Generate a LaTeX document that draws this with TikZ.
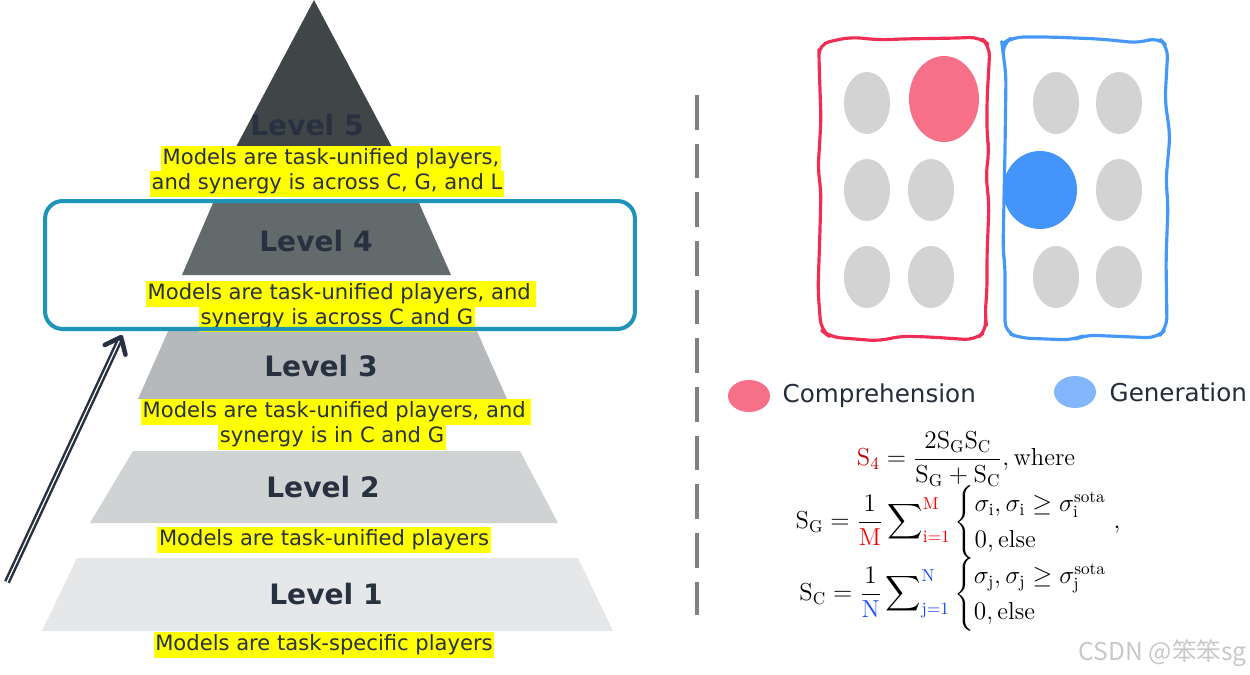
\documentclass[tikz,border=0pt]{standalone}
\usepackage{amsmath,amssymb}
\usepackage{fontspec}
\usepackage{tikz}
\usetikzlibrary{arrows.meta,positioning,shapes.geometric}
\newfontfamily\dejavu{DejaVu Sans}
\newfontfamily\cjk{Noto Sans CJK SC}
\definecolor{lvfive}{RGB}{64,69,72}
\definecolor{lvfour}{RGB}{98,106,108}
\definecolor{lvthree}{RGB}{181,185,188}
\definecolor{lvtwo}{RGB}{208,211,212}
\definecolor{lvone}{RGB}{230,231,232}
\definecolor{lvtext}{RGB}{40,49,64}
\definecolor{hlyellow}{RGB}{255,255,0}
\definecolor{focusblue}{RGB}{31,148,184}
\definecolor{arrowdark}{RGB}{38,48,64}
\definecolor{sepgray}{RGB}{128,128,128}
\definecolor{compred}{RGB}{240,45,85}
\definecolor{genblue}{RGB}{69,152,247}
\definecolor{dotgray}{RGB}{211,211,211}
\definecolor{bigred}{RGB}{246,112,136}
\definecolor{bigblue}{RGB}{67,148,251}
\definecolor{legblue}{RGB}{130,184,251}
\definecolor{sfour}{RGB}{192,0,0}
\definecolor{mred}{RGB}{255,0,0}
\definecolor{nblue}{RGB}{20,70,255}
\definecolor{wmgray}{RGB}{200,200,200}

\begin{document}
\begin{tikzpicture}[x=0.02cm, y=-0.02cm,
    level/.style={font=\dejavu\bfseries\fontsize{16}{18}\selectfont, text=lvtext, inner sep=0pt},
    hl/.style={fill=hlyellow, inner xsep=1pt, inner ysep=1.5pt, text height=9pt, text depth=2.8pt, font=\dejavu\fontsize{12}{14}\selectfont, text=lvtext},
    focus/.style={draw=focusblue, line width=2.3pt, rounded corners=10pt, minimum width=11.8cm, minimum height=2.56cm},
    uparrow/.style={draw=arrowdark, double=white, line width=1.4pt, double distance=0.7pt, -{Straight Barb[length=8pt, width=13pt, line width=2.6pt, round]}},
    sepline/.style={draw=sepgray, line width=2pt, dash pattern=on 19.8pt off 7.9pt},
    wobble/.style={line width=1.8pt, line join=round, rounded corners=6pt},
    legdot/.style={ellipse, minimum width=0.84cm, minimum height=0.64cm, inner sep=0pt},
    legtext/.style={font=\dejavu\fontsize{14}{16}\selectfont, text=lvtext!90!black, inner sep=0pt}
]
\useasboundingbox (0,0) rectangle (1250,674);

% pyramid layers
\fill[lvfive] (314,0) -- (392,147) -- (236,147) -- cycle;
\fill[lvfour] (213,203) -- (419,203) -- (451,275) -- (182,275) -- cycle;
\fill[lvthree] (169,329) -- (476,329) -- (507,399) -- (138,399) -- cycle;
\fill[lvtwo] (133,451) -- (520,451) -- (558,523) -- (90,523) -- cycle;
\fill[lvone] (77,558) -- (578,558) -- (613,631) -- (42,631) -- cycle;

\node[level] (lfive) at (307,125) {Level 5};
\node[level] (lfour) at (316,241) {Level 4};
\node[level] (lthree) at (321,366) {Level 3};
\node[level] (ltwo) at (323,487) {Level 2};
\node[level] (lone) at (326,594) {Level 1};

% descriptions
\node[hl] (dfivea) at (331,159) {Models are task-unified players,};
\node[hl] (dfiveb) at (327,184) {and synergy is across C, G, and L};
\node[hl] (dfoura) at (341,294) {Models are task-unified players, and\,};
\node[hl] (dfourb) at (337,319) {synergy is across C and G};
\node[hl] (dthreea) at (336,412) {Models are task-unified players, and\,};
\node[hl] (dthreeb) at (332,437) {synergy is in C and G};
\node[hl] (dtwo) at (324,540) {Models are task-unified players};
\node[hl] (done) at (324,645) {Models are task-specific players};

% highlighted level
\node[focus] (box) at (340,265) {};

\coordinate (arrtail) at (7,582);
\coordinate (arrhead) at (122,335);
\draw[uparrow] (arrtail) -- (arrhead);

% separator
\coordinate (septop) at (697,95);
\coordinate (sepbot) at (697,615);
\draw[sepline] (septop) -- (sepbot);

% comprehension / generation groups
\draw[wobble, draw=compred] (819,44) -- (850,37) -- (880,40) -- (900,39) -- (960,38)
  -- (980,37) -- (990,46) -- (987,100) -- (987,135) -- (989,150) -- (986,175)
  -- (989,205) -- (987,255) -- (987,290) -- (985,315) -- (987,330) -- (975,340)
  -- (930,337) -- (900,336) -- (880,341) -- (830,337) -- (821,330) -- (818,290)
  -- (820,230) -- (821,190) -- (818,170) -- (821,120) -- (819,60) -- cycle;
\draw[wobble, draw=genblue] (1002,44) -- (1013,37) -- (1050,37) -- (1100,39)
  -- (1140,43) -- (1158,37) -- (1168,47) -- (1165,100) -- (1170,135) -- (1166,180)
  -- (1168,205) -- (1166,260) -- (1167,328) -- (1157,338) -- (1085,335) -- (1073,340)
  -- (1020,338) -- (1005,332) -- (1005,265) -- (1003,250) -- (1005,150) -- (1006,75)
  -- (1003,52) -- cycle;

\foreach \cx/\cy in {867/103, 867/190, 931/190, 867/277, 931/277,
                     1056/103, 1119/103, 1119/190, 1056/277, 1119/277}
  \fill[dotgray] (\cx,\cy) ellipse [x radius=23, y radius=31];
\fill[bigred] (944,99) ellipse [x radius=35, y radius=43];
\fill[bigblue] (1040,190) ellipse [x radius=37, y radius=39];

% legend
\node[legdot, fill=bigred] (legc) at (749,396) {};
\node[legtext, right=0.24cm of legc] (legctext) {Comprehension};
\node[legdot, fill=legblue] (legg) at (1075,392) {};
\node[legtext, right=0.26cm of legg] (leggtext) {Generation};

% score
\node[font=\fontsize{14}{17}\selectfont, inner sep=0pt] (score) at (966,531) {$\begin{gathered}
{\color{sfour}\mathrm{S}_4} = \frac{2\mathrm{S_G S_C}}{\mathrm{S_G + S_C}},\mathrm{where}\\[-5pt]
\mathrm{S_G} = \frac{1}{\color{mred}\mathrm{M}}\sum\nolimits_{\mathrm{i=1}}^{\color{mred}\mathrm{M}}
  \begin{cases}\sigma_{\mathrm{i}}, \sigma_{\mathrm{i}} \geq \sigma_{\mathrm{i}}^{\mathrm{sota}}\\ 0, \mathrm{else}\end{cases}\hspace{-13pt},\hspace{9pt}\\[-5pt]
\mathrm{S_C} = \frac{1}{\color{nblue}\mathrm{N}}\sum\nolimits_{\mathrm{j=1}}^{\color{nblue}\mathrm{N}}
  \begin{cases}\sigma_{\mathrm{j}}, \sigma_{\mathrm{j}} \geq \sigma_{\mathrm{j}}^{\mathrm{sota}}\\ 0, \mathrm{else}\end{cases}
\end{gathered}$};

\node[anchor=east, font=\cjk\fontsize{14}{16}\selectfont, text=wmgray, inner sep=0pt] (mark) at (1247,653) {CSDN @笨笨sg};
\end{tikzpicture}
\end{document}
